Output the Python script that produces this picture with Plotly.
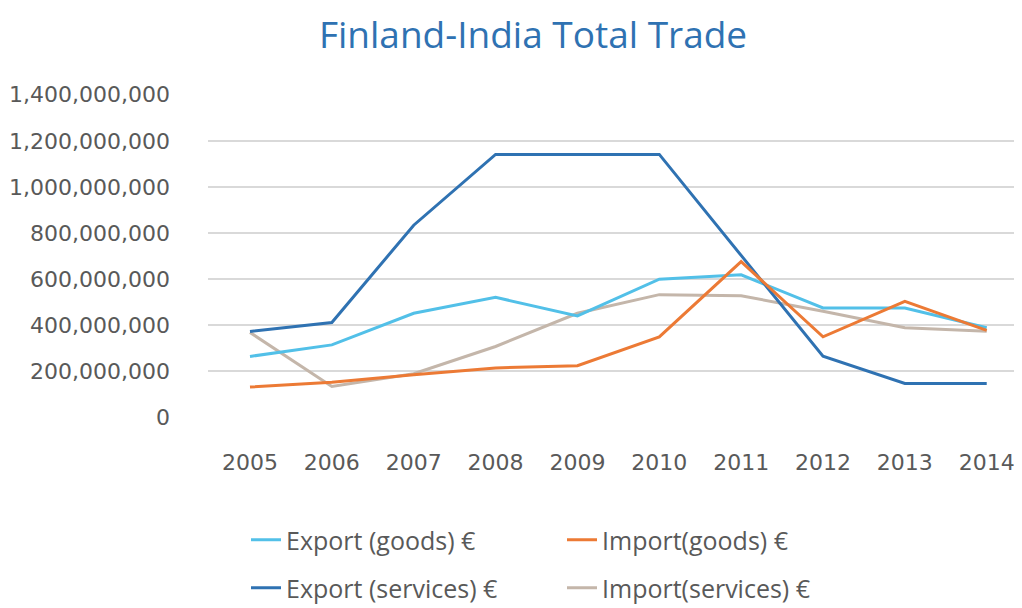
import plotly.graph_objects as go

years = [2005, 2006, 2007, 2008, 2009, 2010, 2011, 2012, 2013, 2014]
export_goods = [265e6, 315e6, 452e6, 521e6, 441e6, 600e6, 619e6, 475e6, 475e6, 389e6]
import_goods = [132e6, 153e6, 186e6, 215e6, 225e6, 350e6, 676e6, 350e6, 504e6, 378e6]
export_services = [373e6, 412e6, 834e6, 1141e6, 1141e6, 1141e6, 703e6, 266e6, 148e6, 148e6]
import_services = [369e6, 135e6, 190e6, 308e6, 452e6, 533e6, 528e6, 461e6, 389e6, 374e6]
y_ticks = [0, 200e6, 400e6, 600e6, 800e6, 1000e6, 1200e6, 1400e6]
y_tick_text = ["0", "200,000,000", "400,000,000", "600,000,000", "800,000,000",
               "1,000,000,000", "1,200,000,000", "1,400,000,000"]

fig = go.Figure()
series = [
    ("Import(services) €", import_services, "#C4B6AA", "legend2", 2),
    ("Export (goods) €", export_goods, "#52C0E8", "legend", 1),
    ("Export (services) €", export_services, "#2F72B2", "legend2", 1),
    ("Import(goods) €", import_goods, "#EC7A35", "legend", 2),
]
for name, vals, color, lg, rank in series:
    fig.add_trace(go.Scatter(x=years, y=vals, name=name, mode="lines",
                             line=dict(color=color, width=3),
                             legend=lg, legendrank=rank))

# the page body adds an 8px offset, so the figure is sized/placed to compensate
W, H = 1014, 600
L, R, T, B = 200, 0, 86, 190

legend_common = dict(orientation="h", xanchor="left", yanchor="middle",
                      xref="container", yref="container",
                      font=dict(family="Open Sans", size=25, color="#595959"),
                      entrywidth=271, entrywidthmode="pixels",
                      bgcolor="rgba(0,0,0,0)", itemwidth=30, tracegroupgap=0)

fig.update_layout(
    width=W, height=H,
    margin=dict(l=L, r=R, t=T, b=B, autoexpand=False),
    paper_bgcolor="white", plot_bgcolor="white",
    title=dict(text="Finland-India Total Trade", x=525 / W, xref="container",
               y=1 - 27 / H, yref="container", xanchor="center", yanchor="middle",
               font=dict(family="Open Sans", size=37, color="#2F72B2")),
    xaxis=dict(range=[2004.487, 2014.431], tickvals=years, ticktext=[str(y) for y in years],
               showgrid=False, zeroline=False, showline=False, ticks="", automargin=False,
               tickfont=dict(family="DejaVu Sans", size=22, color="#595959"),
               ticklabelstandoff=29),
    yaxis=dict(range=[-2e6, 1.403e9], tickvals=y_ticks, ticktext=y_tick_text,
               showgrid=True, gridcolor="#D9D9D9", gridwidth=2, automargin=False,
               zeroline=False, showline=False, ticks="",
               tickfont=dict(family="DejaVu Sans", size=22, color="#595959"),
               ticklabelstandoff=37),
    legend=dict(x=238 / W, y=1 - 532 / H, **legend_common),
    legend2=dict(x=238 / W, y=1 - 580 / H, **legend_common),
    showlegend=True,
)

fig.write_html("out.html")
